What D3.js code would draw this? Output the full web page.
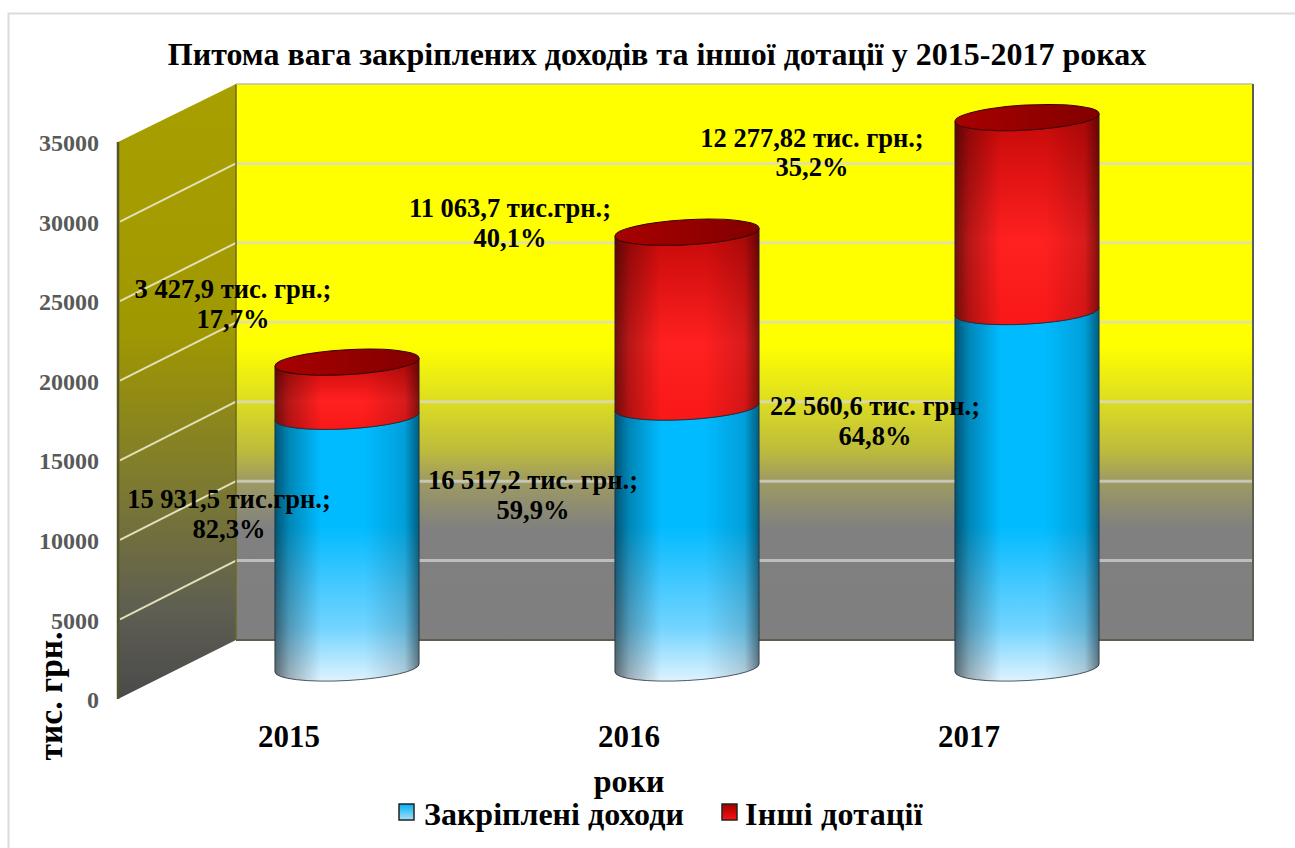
<!DOCTYPE html>
<html>
<head>
<meta charset="utf-8">
<script src="https://d3js.org/d3.v7.min.js"></script>
<style>
html, body { margin: 0; padding: 0; background: #fff; }
svg { display: block; }
text { font-family: "Liberation Serif", serif; font-weight: bold; }
</style>
</head>
<body>
<div id="chart-area"></div>
<script>
// data
var years = ["2015", "2016", "2017"];
var fixedIncome = [15931.5, 16517.2, 22560.6];
var otherSubsidy = [3427.9, 11063.7, 12277.82];
var yTicks = [0, 5000, 10000, 15000, 20000, 25000, 30000, 35000];
var fixedLabels = ["15 931,5 тис.грн.;", "16 517,2 тис. грн.;", "22 560,6 тис. грн.;"];
var fixedShares = ["82,3%", "59,9%", "64,8%"];
var otherLabels = ["3 427,9 тис. грн.;", "11 063,7 тис.грн.;", "12 277,82 тис. грн.;"];
var otherShares = ["17,7%", "40,1%", "35,2%"];

var width = 1295, height = 848;
var wallLeft = 118, wallRight = 236, backRight = 1253;
var yMax = 35000;

var svg = d3.select("#chart-area").append("svg")
    .attr("width", width)
    .attr("height", height);

var defs = svg.append("defs");

function gradient(id, stops, attrs) {
    var g = defs.append("linearGradient").attr("id", id);
    Object.keys(attrs).forEach((k) => { g.attr(k, attrs[k]); });
    stops.forEach((s) => {
        g.append("stop").attr("offset", s[0]).attr("stop-color", s[1])
            .attr("stop-opacity", s[2] === undefined ? 1 : s[2]);
    });
}
var vertical = {x1: 0, y1: 0, x2: 0, y2: 1};
var horizontal = {x1: 0, y1: 0, x2: 1, y2: 0};

gradient("backFill", [[0, "#ffff00"], [.47, "#ffff00"], [.57, "#dddd22"], [.66, "#bdbb3c"], [.71, "#a09c60"], [.80, "#808080"], [1, "#7f7f7f"]], vertical);
gradient("wallFill", [[0, "#a8a000"], [.4, "#a09800"], [.65, "#7d7a30"], [.85, "#5f5f52"], [1, "#4a4a4a"]], vertical);
gradient("blueFill", [[0, "#00bbff"], [.57, "#00bbff"], [.72, "#40c8ff"], [.85, "#72d4ff"], [1, "#e0f3ff"]],
    {gradientUnits: "userSpaceOnUse", x1: 0, y1: 320, x2: 0, y2: 682});
gradient("redFill", [[0, "#c40808"], [.6, "#ff2020"], [1, "#f81818"]], vertical);
gradient("shade", [[0, "#000", .55], [.1, "#000", .28], [.32, "#000", 0], [.62, "#000", 0], [.9, "#000", .15], [1, "#000", .5]], horizontal);
gradient("topFill", [[0, "#a80000"], [1, "#820000"]], horizontal);
gradient("legendBlue", [[0, "#00b0f0"], [1, "#a8e0fa"]], vertical);
gradient("legendRed", [[0, "#a00000"], [1, "#ff1010"]], vertical);

// outer frame, only top and left are inside the shot
svg.append("path")
    .attr("d", "M8.5 848V13.5H1295")
    .attr("fill", "none")
    .attr("stroke", "#dcdcdc")
    .attr("stroke-width", 2);

// same value scale on the three planes of the 3d box
var yFront = d3.scaleLinear().domain([0, yMax]).range([699, 142]);
var yBack = d3.scaleLinear().domain([0, yMax]).range([640, 84]);
var yBar = d3.scaleLinear().domain([0, yMax]).range([668, 115]);

var xFront = d3.scaleBand().domain(years).range([wallLeft, 1138]).paddingInner(0.576).paddingOuter(0.288);
var barShift = wallRight - wallLeft - 59;

// walls
svg.append("path")
    .attr("d", "M" + wallRight + " " + yBack(yMax) + "H" + backRight + "V" + yBack(0) + "H" + wallRight + "Z")
    .attr("fill", "url(#backFill)");
svg.append("path")
    .attr("d", "M" + wallLeft + " " + yFront(yMax) + "L" + wallRight + " " + yBack(yMax) + "V" + yBack(0) + "L" + wallLeft + " " + yFront(0) + "Z")
    .attr("fill", "url(#wallFill)");

var gridTicks = yTicks.filter((d) => d > 0 && d < yMax);
svg.append("g").selectAll("line").data(gridTicks).enter().append("line")
    .attr("x1", wallRight).attr("x2", backRight)
    .attr("y1", (d) => yBack(d)).attr("y2", (d) => yBack(d))
    .attr("stroke", "#d9d9d9").attr("stroke-opacity", .7).attr("stroke-width", 3);
svg.append("g").selectAll("line").data(gridTicks).enter().append("line")
    .attr("x1", wallLeft + 2).attr("x2", wallRight)
    .attr("y1", (d) => yFront(d)).attr("y2", (d) => yBack(d))
    .attr("stroke", "#e2e0b8").attr("stroke-width", 2);

// box edges
svg.append("path")
    .attr("d", "M" + wallLeft + " " + yFront(yMax) + "V" + yFront(0))
    .attr("fill", "none").attr("stroke", "#55552a").attr("stroke-width", 2.5);
svg.append("path")
    .attr("d", "M" + wallRight + " " + yBack(yMax) + "V" + yBack(0))
    .attr("fill", "none").attr("stroke", "#6e6a20").attr("stroke-width", 1.5);
svg.append("path")
    .attr("d", "M" + wallRight + " " + yBack(yMax) + "H" + backRight)
    .attr("fill", "none").attr("stroke", "#c0bcb0").attr("stroke-width", 1.5);
svg.append("path")
    .attr("d", "M" + backRight + " " + yBack(yMax) + "V" + yBack(0) + "H" + wallRight)
    .attr("fill", "none").attr("stroke", "#5e5e50").attr("stroke-width", 2);

// cylinders
var table = years.map((y, i) => ({year: y, fixed: fixedIncome[i], other: otherSubsidy[i]}));
var stacked = d3.stack().keys(["fixed", "other"])(table);

var rx = xFront.bandwidth() / 2, ry = 12.5, tilt = -3.2;
var tiltDy = rx * Math.tan(-tilt * Math.PI / 180);

function body(cx, y0, y1) {
    // lower half of ellipse at y0, up the side, lower half back at y1
    return "M" + (cx - rx) + " " + (y0 + tiltDy)
        + "A" + rx + " " + ry + " " + tilt + " 0 0 " + (cx + rx) + " " + (y0 - tiltDy)
        + "L" + (cx + rx) + " " + (y1 - tiltDy)
        + "A" + rx + " " + ry + " " + tilt + " 0 1 " + (cx - rx) + " " + (y1 + tiltDy) + "Z";
}
var fills = {fixed: "url(#blueFill)", other: "url(#redFill)"};

var series = svg.selectAll("g.series").data(stacked).enter().append("g").attr("class", "series");
series.each(function(s) {
    var g = d3.select(this);
    g.selectAll("path.side").data(s).enter().append("path")
        .attr("class", "side")
        .attr("d", (d) => body(xFront(d.data.year) + rx + barShift, yBar(d[0]), yBar(d[1])))
        .attr("fill", fills[s.key]);
    g.selectAll("path.shade").data(s).enter().append("path")
        .attr("class", "shade")
        .attr("d", (d) => body(xFront(d.data.year) + rx + barShift, yBar(d[0]), yBar(d[1])))
        .attr("fill", "url(#shade)")
        .attr("stroke", "#1a2430").attr("stroke-opacity", .75).attr("stroke-width", 1);
});

svg.append("g").selectAll("ellipse").data(stacked[1]).enter().append("ellipse")
    .attr("cx", 0).attr("cy", 0).attr("rx", rx).attr("ry", ry)
    .attr("transform", (d) => "translate(" + (xFront(d.data.year) + rx + barShift) + "," + yBar(d[1]) + ") rotate(" + tilt + ")")
    .attr("fill", "url(#topFill)")
    .attr("stroke", "#400000").attr("stroke-width", 1);

// axes
var yAxis = d3.axisLeft(yFront).tickValues(yTicks).tickSize(0).tickPadding(0).tickFormat(d3.format("d"));
var yG = svg.append("g").attr("transform", "translate(99,1)").call(yAxis);
yG.select(".domain").remove();
yG.selectAll("text").attr("font-size", 24).attr("fill", "#595959");

var xAxis = d3.axisBottom(xFront).tickSize(0).tickPadding(0);
var xG = svg.append("g").attr("transform", "translate(1,725)").call(xAxis);
xG.select(".domain").remove();
xG.selectAll("text").attr("font-size", 31).attr("fill", "#000");

// data labels, placed by hand in the original
var labelSpots = [
    {first: fixedLabels, second: fixedShares, xs: [229, 533, 875], ys: [508, 489, 415], lh: [30, 30, 30]},
    {first: otherLabels, second: otherShares, xs: [233, 510, 812], ys: [298, 217, 147], lh: [30, 30, 29]}
];
labelSpots.forEach((spot) => {
    var g = svg.append("g").attr("text-anchor", "middle").attr("font-size", 26.5);
    years.forEach((y, i) => {
        g.append("text").attr("x", spot.xs[i]).attr("y", spot.ys[i]).text(spot.first[i]);
        g.append("text").attr("x", spot.xs[i]).attr("y", spot.ys[i] + spot.lh[i]).text(spot.second[i]);
    });
});

// titles
svg.append("text")
    .attr("x", 657).attr("y", 65)
    .attr("text-anchor", "middle")
    .attr("font-size", 32)
    .text("Питома вага закріплених доходів та іншої дотації у 2015-2017 роках");
svg.append("text")
    .attr("transform", "translate(62,696) rotate(-90)")
    .attr("text-anchor", "middle")
    .attr("font-size", 33.5)
    .text("тис. грн.");
svg.append("text")
    .attr("x", 629).attr("y", 792)
    .attr("text-anchor", "middle")
    .attr("font-size", 32)
    .text("роки");

// legend
var legendNames = ["Закріплені доходи", "Інші дотації"];
var legend = svg.append("g");
[[399, "url(#legendBlue)", 424], [722, "url(#legendRed)", 745]].forEach((e, i) => {
    legend.append("rect").attr("x", e[0]).attr("y", 804).attr("width", 15).attr("height", 16)
        .attr("fill", e[1]).attr("stroke", "#222").attr("stroke-width", 1.5);
    legend.append("text").attr("x", e[2]).attr("y", 825).attr("font-size", 32)
        .attr("letter-spacing", i == 1 ? .25 : 0).text(legendNames[i]);
});
</script>
</body>
</html>
